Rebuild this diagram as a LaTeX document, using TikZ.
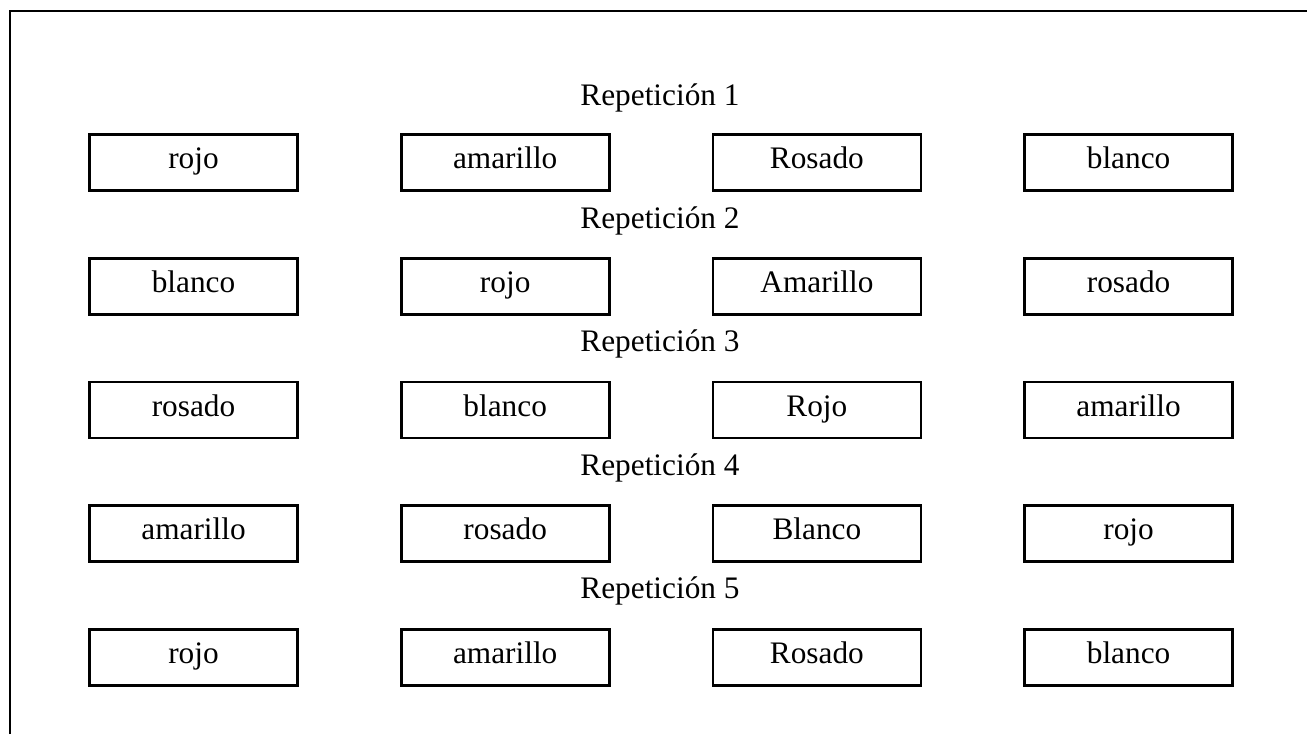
\documentclass[tikz,border=0pt]{standalone}
\usepackage{fontspec}
\setmainfont{Liberation Serif}
\begin{document}
\begin{tikzpicture}[x=1pt,y=-1pt,
  colorbox/.style={draw, line width=2.8pt, minimum width=208pt, minimum height=56pt,
    inner sep=0pt, anchor=north, text height=20pt, text depth=8pt,
    font=\fontsize{31.3}{37}\selectfont},
  reptitle/.style={anchor=base, inner sep=0pt, font=\fontsize{31.3}{37}\selectfont}]
\useasboundingbox (0,0) rectangle (1307,734);
% outer frame (left and top edges)
\coordinate (fbl) at (10,734);
\coordinate (ftl) at (10,11);
\coordinate (ftr) at (1307,11);
\draw[line width=2.8pt] (fbl) -- (ftl) -- (ftr);
% repetitions
\foreach \i/\a/\b/\c/\d in {1/rojo/amarillo/Rosado/blanco,
                           2/blanco/rojo/Amarillo/rosado,
                           3/rosado/blanco/Rojo/amarillo,
                           4/amarillo/rosado/Blanco/rojo,
                           5/rojo/amarillo/Rosado/blanco}{
  \pgfmathsetmacro{\ty}{105.2+123.3*(\i-1)}
  \pgfmathsetmacro{\by}{133+123.8*(\i-1)}
  \node[reptitle] (rep\i) at (660,\ty) {Repetición \i};
  \node[colorbox] (c\i a) at (193.5,\by) {\a};
  \node[colorbox] (c\i b) at (505.2,\by) {\b};
  \node[colorbox] (c\i c) at (816.9,\by) {\c};
  \node[colorbox] (c\i d) at (1128.6,\by) {\d};
}
\end{tikzpicture}
\end{document}
